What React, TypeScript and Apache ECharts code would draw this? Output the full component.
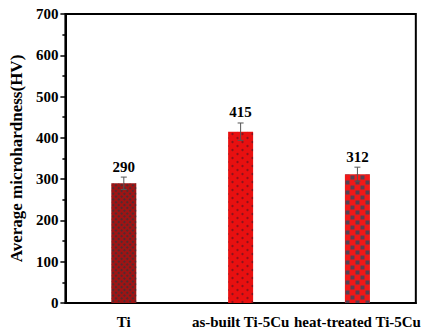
import React, { useEffect, useRef } from "react";
import * as echarts from "echarts";

const categories = ["Ti", "as-built Ti-5Cu", "heat-treated Ti-5Cu"];
const hardness = [290, 415, 312];
const errors = [15, 21, 17];
const yTicks = { min: 0, max: 700, interval: 100 };

const FONT = "'Times New Roman', 'Liberation Serif', 'DejaVu Serif', serif";

const barStyles = [
  {
    color: "#9e1414",
    decal: {
      symbol: "rect",
      symbolSize: 1,
      color: "rgba(60,50,55,0.8)",
      dashArrayX: [2, 2],
      dashArrayY: [2, 2],
      rotation: Math.PI / 4,
    },
  },
  {
    color: "#e81010",
    decal: {
      symbol: "circle",
      symbolSize: 0.6,
      color: "rgba(110,20,30,0.75)",
      dashArrayX: [[5, 5], [0, 5, 5, 0]],
      dashArrayY: [4, 0],
      rotation: 0,
    },
  },
  {
    color: "#f01818",
    decal: {
      symbol: "rect",
      symbolSize: 0.8,
      color: "rgba(60,70,90,0.85)",
      dashArrayX: [[5, 5], [0, 5, 5, 0]],
      dashArrayY: [5, 0],
      rotation: 0,
    },
  },
];

export default function App() {
  const ref = useRef<HTMLDivElement>(null);
  useEffect(() => {
    if (!ref.current) return;
    const chart = echarts.init(ref.current, undefined, { renderer: "svg" });
    chart.setOption({
      animation: false,
      textStyle: { fontFamily: FONT },
      grid: {
        left: 64,
        top: 14,
        right: 2,
        bottom: 28,
        show: true,
        borderColor: "#000",
        borderWidth: 2,
      },
      xAxis: [
        {
          type: "category",
          data: categories,
          axisLine: { lineStyle: { color: "#000", width: 2 } },
          axisTick: { alignWithLabel: true, length: 6, lineStyle: { color: "#000", width: 1.5 } },
          axisLabel: {
            color: "#000",
            fontFamily: FONT,
            fontWeight: "bold",
            fontSize: 15,
            margin: 11,
            interval: 0,
          },
        },
        {
          type: "category",
          data: categories,
          position: "bottom",
          axisLine: { show: false },
          axisTick: { alignWithLabel: false, length: 3, lineStyle: { color: "#000", width: 1.5 } },
          axisLabel: { show: false },
        },
      ],
      yAxis: {
        type: "value",
        min: yTicks.min,
        max: yTicks.max,
        interval: yTicks.interval,
        name: "Average microhardness(HV)",
        nameLocation: "middle",
        nameGap: 36,
        nameTextStyle: {
          color: "#000",
          fontFamily: FONT,
          fontWeight: "bold",
          fontSize: 17,
        },
        axisLine: { show: true, lineStyle: { color: "#000", width: 2 } },
        axisTick: { show: true, length: 5, lineStyle: { color: "#000", width: 1.5 } },
        minorTick: { show: true, splitNumber: 2, length: 3, lineStyle: { color: "#000", width: 1.5 } },
        splitLine: { show: false },
        axisLabel: {
          color: "#000",
          fontFamily: FONT,
          fontWeight: "bold",
          fontSize: 15,
          margin: 7,
        },
      },
      series: [
        {
          type: "bar",
          barWidth: 25,
          data: hardness.map((v, i) => ({
            value: v,
            itemStyle: { color: barStyles[i].color, decal: barStyles[i].decal },
          })),
        },
        {
          type: "custom",
          data: hardness.map((v, i) => [i, v, errors[i]]),
          z: 10,
          renderItem: (params: any, api: any) => {
            const idx = api.value(0);
            const v = api.value(1);
            const e = api.value(2);
            const top = api.coord([idx, v + e]);
            const bot = api.coord([idx, v - e]);
            const cap = 3;
            const stroke = { stroke: "#555", lineWidth: 1 };
            return {
              type: "group",
              children: [
                { type: "line", shape: { x1: top[0], y1: top[1], x2: bot[0], y2: bot[1] }, style: stroke },
                { type: "line", shape: { x1: top[0] - cap, y1: top[1], x2: top[0] + cap, y2: top[1] }, style: stroke },
                { type: "line", shape: { x1: bot[0] - cap, y1: bot[1], x2: bot[0] + cap, y2: bot[1] }, style: stroke },
                {
                  type: "text",
                  x: top[0],
                  y: top[1] - 3,
                  style: {
                    text: String(v),
                    fill: "#000",
                    fontFamily: FONT,
                    fontWeight: "bold",
                    fontSize: 15,
                    align: "center",
                    verticalAlign: "bottom",
                  },
                },
              ],
            };
          },
        },
      ],
    });
    return () => chart.dispose();
  }, []);
  return <div ref={ref} style={{ width: 423, height: 331, position: "absolute", left: 0, top: 0 }} />;
}
